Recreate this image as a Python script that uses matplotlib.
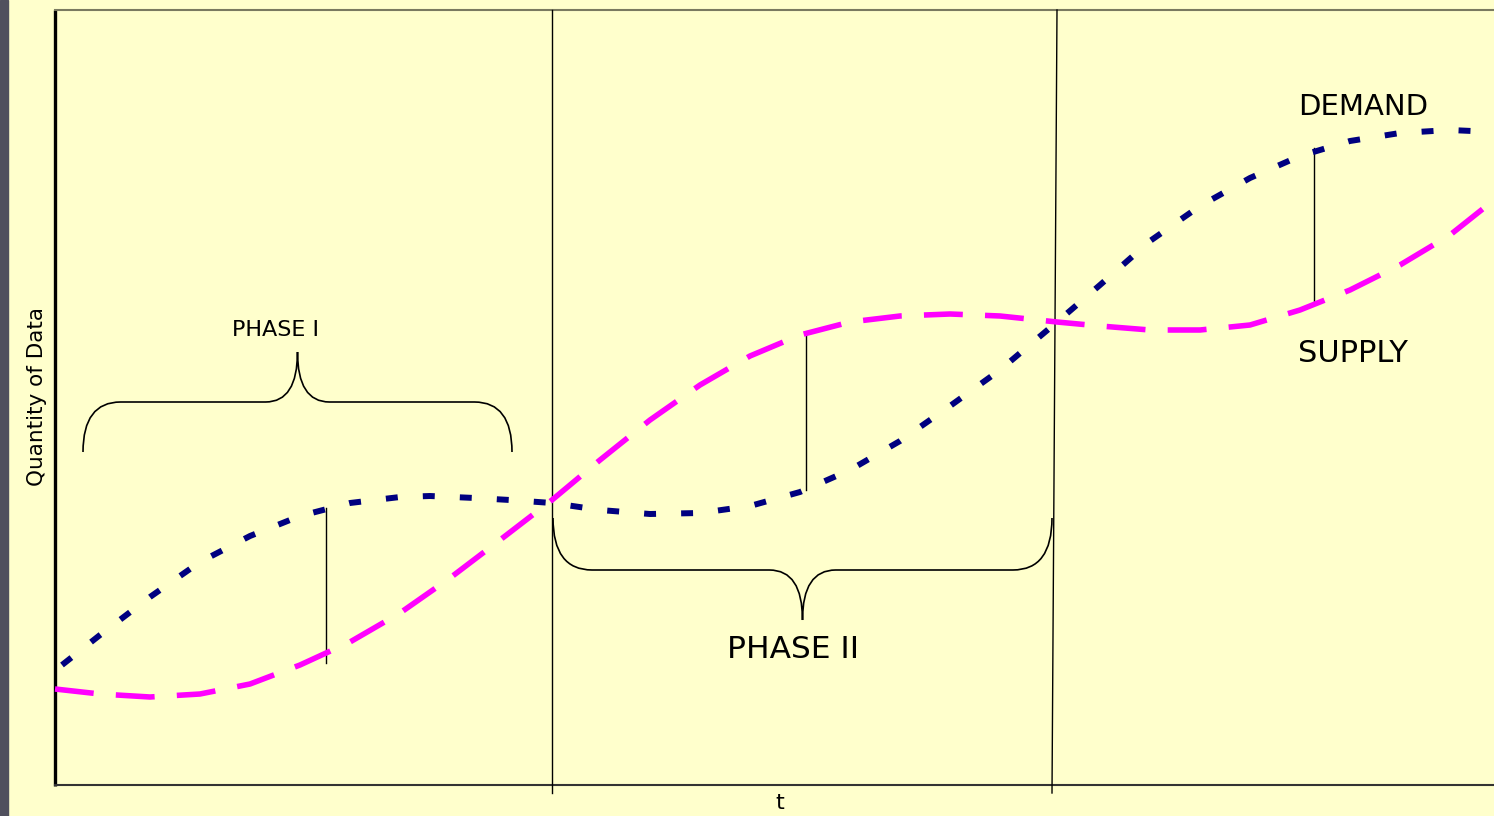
import matplotlib
matplotlib.use("Agg")
from matplotlib import pyplot as plt
from matplotlib.path import Path
from matplotlib.patches import PathPatch, Rectangle

# curve samples (x = t, y = quantity, screen units)
demand_x = [62, 100, 150, 200, 250, 300, 350, 400, 430, 475, 510, 552, 600, 650, 700,
            750, 800, 850, 900, 950, 1000, 1057, 1100, 1150, 1200, 1250, 1300, 1350,
            1400, 1450, 1494]
demand_y = [665, 635, 597, 562, 536, 516, 503, 497, 496, 498, 500, 503, 510, 514, 513,
            506, 492, 470, 441, 406, 370, 322, 285, 241, 206, 178, 156, 141, 133, 130, 132]

supply_x = [55, 100, 150, 200, 250, 300, 350, 400, 450, 500, 552, 600, 650, 700, 750,
            800, 850, 900, 950, 1000, 1057, 1100, 1150, 1200, 1250, 1300, 1350, 1400,
            1450, 1494]
supply_y = [689, 694, 697, 694, 684, 665, 642, 613, 578, 540, 500, 460, 420, 385, 356,
            335, 322, 316, 314, 316, 322, 326, 330, 330, 325, 310, 290, 265, 235, 200]

# gaps between demand and supply
gap_x = [326, 806, 1314]
gap_top = [508, 333, 148]
gap_bottom = [663, 490, 302]

labels = ["PHASE I", "PHASE II", "DEMAND", "SUPPLY"]

W, H = 1494, 816
fig = plt.figure(figsize=(W / 100, H / 100), dpi=100)
fig.patch.set_facecolor("#ffffcc")
ax = fig.add_axes([0, 0, 1, 1])
ax.set_xlim(0, W)
ax.set_ylim(H, 0)
ax.axis("off")

# grey strip on the left edge
fig.patches.append(Rectangle((0, 0), 8 / W, 1, transform=fig.transFigure,
                             color="#50505e", zorder=0))

# frame
ax.plot([55, 55], [10, 786], color="black", lw=2.4, solid_capstyle="butt")
ax.plot([55, W], [785, 785], color="#333333", lw=1.5)
ax.plot([55, W], [10, 10], color="#7a7a60", lw=1.5)

# phase boundaries
ax.plot([552, 552], [10, 793], color="black", lw=1.0)
ax.plot([1057, 1052], [10, 793], color="black", lw=1.0)

# curves
ax.plot(supply_x, supply_y, color="#ff00ff", lw=4.0, dashes=(7.0, 4.0),
        solid_capstyle="butt", dash_capstyle="butt", zorder=3)
ax.plot(demand_x, demand_y, color="#000080", lw=4.3, dashes=(2.0, 4.2),
        dash_capstyle="butt", zorder=4)

for x, y0, y1 in zip(gap_x, gap_top, gap_bottom):
    ax.plot([x, x], [y0, y1], color="black", lw=1.0)


def brace(x0, x1, base, tip, end):
    # curly brace: ends at 'end', flat at 'base', point at 'tip'
    xm = (x0 + x1) / 2
    r = abs(end - base) * 0.75
    verts = [(x0, end), (x0, base), (x0 + r, base),
             (xm - r * 0.85, base), (xm, base), (xm, tip),
             (xm, base), (xm + r * 0.85, base),
             (x1 - r, base), (x1, base), (x1, end)]
    codes = [Path.MOVETO, Path.CURVE3, Path.CURVE3,
             Path.LINETO, Path.CURVE3, Path.CURVE3,
             Path.CURVE3, Path.CURVE3,
             Path.LINETO, Path.CURVE3, Path.CURVE3]
    ax.add_patch(PathPatch(Path(verts, codes), fill=False, lw=1.2, color="black"))


brace(83, 512, 402, 352, 452)
brace(553, 1052, 570, 620, 518)

ax.text(276, 330, labels[0], fontsize=16, ha="center", va="center")
ax.text(793, 650, labels[1], fontsize=22.5, ha="center", va="center")
ax.text(1298, 107, labels[2], fontsize=21, ha="left", va="center")
ax.text(1298, 354, labels[3], fontsize=22, ha="left", va="center")

ax.text(37, 397, "Quantity of Data", fontsize=15.5, rotation=90,
        ha="center", va="center")
ax.text(780, 803, "t", fontsize=16, ha="center", va="center")

plt.savefig("out.png", dpi=100, facecolor=fig.get_facecolor())
